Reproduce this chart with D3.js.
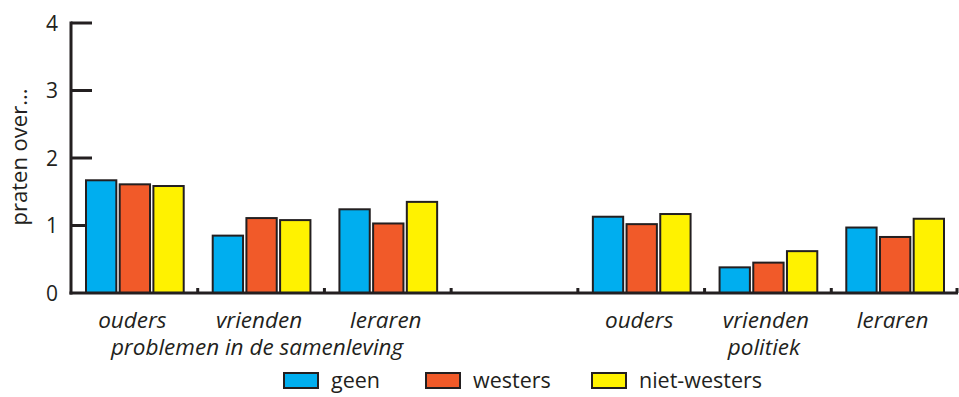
<!DOCTYPE html>
<html>
<head>
<meta charset="utf-8">
<script src="https://cdn.jsdelivr.net/npm/d3@7"></script>
<style>
  html, body { margin: 0; padding: 0; background: #fff; }
  svg { display: block; }
  text { font-family: "Open Sans", "Noto Sans", sans-serif; fill: #231f20; }
</style>
</head>
<body>
<svg id="chart" width="959" height="397"></svg>
<script>
// ---- data ----
const categories = ["ouders", "vrienden", "leraren", "", "ouders", "vrienden", "leraren"];
const seriesNames = ["geen", "westers", "niet-westers"];
const geen        = [1.67, 0.85, 1.24, null, 1.13, 0.38, 0.97];
const westers     = [1.61, 1.11, 1.03, null, 1.02, 0.45, 0.83];
const nietWesters = [1.585, 1.08, 1.35, null, 1.17, 0.62, 1.10];
const sectionLabels = [
  { label: "problemen in de samenleving", index: 1 },
  { label: "politiek", index: 5 }
];
const yTicks = [0, 1, 2, 3, 4];
const yLabel = "praten over...";
const colors = ["#00aeef", "#f15a29", "#fff200"];

const seriesValues = [geen, westers, nietWesters];

const svg = d3.select("#chart");
const ink = "#231f20";

const x = d3.scaleBand()
  .domain(d3.range(categories.length))
  .range([71, 958])
  .paddingInner(0).paddingOuter(0);

const xInner = d3.scaleBand()
  .domain(d3.range(seriesNames.length))
  .range([15, x.bandwidth() - 14])
  .paddingInner(0.1).paddingOuter(0);

const y = d3.scaleLinear().domain([0, 4]).range([293, 23]);

// y ticks (inward)
const yAxisG = svg.append("g");
yAxisG.selectAll("line.tick")
  .data(yTicks.filter(d => d > 0))
  .join("line")
  .attr("x1", 71).attr("x2", 92)
  .attr("y1", d => y(d)).attr("y2", d => y(d))
  .attr("stroke", ink).attr("stroke-width", 3);

yAxisG.selectAll("text")
  .data(yTicks)
  .join("text")
  .attr("x", 58)
  .attr("y", d => y(d))
  .attr("dy", "0.36em")
  .attr("text-anchor", "end")
  .attr("font-size", 21)
  .text(d => d);

// bars
const groups = svg.append("g").selectAll("g")
  .data(categories.map((c, i) => ({ c, i })))
  .join("g")
  .attr("transform", d => `translate(${x(d.i)},0)`);

groups.selectAll("rect")
  .data(d => seriesValues.map((s, k) => ({ k, v: s[d.i] })).filter(e => e.v != null))
  .join("rect")
  .attr("x", d => xInner(d.k))
  .attr("width", xInner.bandwidth())
  .attr("y", d => y(d.v))
  .attr("height", d => y(0) - y(d.v))
  .attr("fill", d => colors[d.k])
  .attr("stroke", ink)
  .attr("stroke-width", 2);

// axis lines
svg.append("line")
  .attr("x1", 71).attr("x2", 71)
  .attr("y1", y(4) - 1.5).attr("y2", y(0) + 1.5)
  .attr("stroke", ink).attr("stroke-width", 3);
svg.append("line")
  .attr("x1", 69.5).attr("x2", 958)
  .attr("y1", y(0)).attr("y2", y(0))
  .attr("stroke", ink).attr("stroke-width", 3);

// x ticks at group boundaries
svg.append("g").selectAll("line")
  .data(d3.range(1, categories.length + 1))
  .join("line")
  .attr("x1", i => Math.min(x.range()[0] + i * x.step(), 957))
  .attr("x2", i => Math.min(x.range()[0] + i * x.step(), 957))
  .attr("y1", y(0)).attr("y2", y(0) - 5)
  .attr("stroke", ink).attr("stroke-width", 3);

// category labels
svg.append("g").selectAll("text")
  .data(categories.map((c, i) => ({ c, i })).filter(d => d.c))
  .join("text")
  .attr("x", d => x(d.i) + x.bandwidth() / 2 - 2)
  .attr("y", 328)
  .attr("text-anchor", "middle")
  .attr("font-size", 22.5)
  .attr("font-style", "italic")
  .text(d => d.c);

svg.append("g").selectAll("text")
  .data(sectionLabels)
  .join("text")
  .attr("x", d => x(d.index) + x.bandwidth() / 2 - 4)
  .attr("y", 355)
  .attr("text-anchor", "middle")
  .attr("font-size", 22.5)
  .attr("font-style", "italic")
  .text(d => d.label);

// y label
svg.append("text")
  .attr("transform", "translate(27,157) rotate(-90)")
  .attr("text-anchor", "middle")
  .attr("font-size", 22)
  .text(yLabel);

// legend
const legendX = [284, 426, 592];
const leg = svg.append("g").selectAll("g")
  .data(seriesNames.map((n, k) => ({ n, k })))
  .join("g")
  .attr("transform", d => `translate(${legendX[d.k]},373)`);
leg.append("rect")
  .attr("width", 34).attr("height", 15)
  .attr("fill", d => colors[d.k])
  .attr("stroke", ink).attr("stroke-width", 2);
leg.append("text")
  .attr("x", 47).attr("y", 15)
  .attr("font-size", 21.5)
  .text(d => d.n);
</script>
</body>
</html>
